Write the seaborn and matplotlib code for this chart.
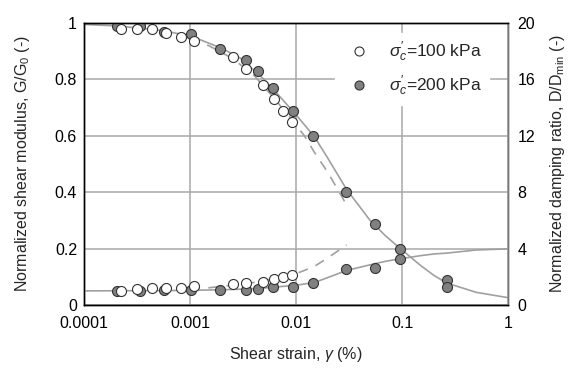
import numpy as np
import pandas as pd
import seaborn as sns
import matplotlib.pyplot as plt
from matplotlib.lines import Line2D

# measured points, sigma'c = 100 kPa (open circles)
strain_100 = [2.23e-4, 3.14e-4, 4.35e-4, 6.0e-4, 8.2e-4, 1.1e-3, 2.56e-3, 3.37e-3,
              4.86e-3, 6.24e-3, 7.48e-3, 9.1e-3]
G_100 = [0.979, 0.978, 0.979, 0.966, 0.949, 0.937, 0.878, 0.838, 0.779, 0.729, 0.689, 0.648]
D_100 = [0.97, 1.11, 1.23, 1.23, 1.23, 1.32, 1.47, 1.54, 1.65, 1.82, 1.99, 2.13]

# measured points, sigma'c = 200 kPa (filled circles)
strain_200 = [2.03e-4, 3.37e-4, 5.73e-4, 1.02e-3, 1.92e-3, 3.35e-3, 4.4e-3, 6.07e-3,
              9.4e-3, 1.46e-2, 2.97e-2, 5.6e-2, 0.0964, 0.264]
G_200 = [0.989, 0.990, 0.969, 0.960, 0.909, 0.869, 0.830, 0.768, 0.689, 0.600,
         0.400, 0.287, 0.199, 0.089]
D_200 = [0.97, 1.01, 1.04, 1.06, 1.04, 1.09, 1.13, 1.25, 1.30, 1.54, 2.53, 2.65, 3.24, 1.26]

# fitted curves
fit_strain = [1e-4, 2e-4, 5e-4, 1e-3, 2e-3, 3e-3, 5e-3, 7e-3, 1e-2, 1.5e-2, 2e-2, 3e-2,
              5e-2, 7e-2, 0.1, 0.15, 0.2, 0.264, 0.5, 1.0]
fit_G_200 = [0.995, 0.99, 0.975, 0.955, 0.91, 0.875, 0.80, 0.74, 0.675, 0.595, 0.52, 0.41,
             0.30, 0.245, 0.195, 0.14, 0.105, 0.078, 0.045, 0.026]
fit_D_200 = [1.0, 1.01, 1.02, 1.04, 1.08, 1.12, 1.2, 1.3, 1.4, 1.6, 1.95, 2.45,
             2.85, 3.1, 3.3, 3.5, 3.62, 3.68, 3.9, 3.98]

dash_strain = [1e-3, 1.5e-3, 2.5e-3, 4e-3, 6e-3, 9e-3, 1.2e-2, 1.5e-2, 2e-2, 3e-2]
dash_G_100 = [0.945, 0.92, 0.875, 0.815, 0.74, 0.66, 0.6, 0.54, 0.47, 0.355]
dash_D_100 = [1.15, 1.22, 1.4, 1.6, 1.85, 2.1, 2.45, 2.75, 3.35, 4.26]

sns.set_style("white")
plt.rcParams['font.family'] = ['Liberation Sans', 'DejaVu Sans']
plt.rcParams['mathtext.fontset'] = 'custom'
plt.rcParams['mathtext.rm'] = 'Liberation Sans'
plt.rcParams['mathtext.it'] = 'Liberation Sans:italic'

fig = plt.figure(figsize=(5.71, 3.69), dpi=100)
ax = fig.add_axes([84 / 571, 1 - 305 / 369, 424 / 571, 282 / 369])
ax2 = ax.twinx()

curve_col = "#a0a0a0"
fill_col = "#808080"
dash = (0, (6, 5))

sns.lineplot(x=fit_strain, y=fit_G_200, ax=ax, color=curve_col, lw=1.2)
sns.lineplot(x=dash_strain, y=dash_G_100, ax=ax, color=curve_col, lw=1.2, linestyle=dash)
sns.lineplot(x=fit_strain, y=fit_D_200, ax=ax2, color=curve_col, lw=1.2)
sns.lineplot(x=dash_strain, y=dash_D_100, ax=ax2, color=curve_col, lw=1.2, linestyle=dash)

pt = dict(s=52, linewidth=0.8, edgecolor="#333333", zorder=3)
sns.scatterplot(x=strain_200, y=G_200, ax=ax, color=fill_col, **pt)
sns.scatterplot(x=strain_100, y=G_100, ax=ax, color="white", **pt)
sns.scatterplot(x=strain_200, y=D_200, ax=ax2, color=fill_col, **pt)
sns.scatterplot(x=strain_100, y=D_100, ax=ax2, color="white", **pt)

ax.set_xscale("log")
ax.set_xlim(1e-4, 1)
ax.set_ylim(0, 1)
ax2.set_ylim(0, 20)
ax.set_xticks([1e-4, 1e-3, 1e-2, 1e-1, 1])
ax.set_xticklabels(["0.0001", "0.001", "0.01", "0.1", "1"])
ax.set_yticks([0, 0.2, 0.4, 0.6, 0.8, 1])
ax.set_yticklabels(["0", "0.2", "0.4", "0.6", "0.8", "1"])
ax2.set_yticks([0, 4, 8, 12, 16, 20])
ax.minorticks_off()
ax.grid(True, color="#a8a8a8", lw=1.1)
ax.tick_params(axis="x", length=0, labelsize=11.5, pad=8, colors="black")
ax.tick_params(axis="y", length=0, labelsize=11.5, pad=5, colors="black")
ax2.tick_params(length=0, labelsize=11.5, pad=7, colors="black")

ax.set_xlabel(r"Shear strain, $\gamma$ (%)", fontsize=11.5, labelpad=10)
ax.set_ylabel(r"Normalized shear modulus, G/G$_0$ (-)", fontsize=11.5, labelpad=16)
ax2.set_ylabel(r"Normalized damping ratio, D/D$_{\rm min}$ (-)", fontsize=11.5, labelpad=9)

for a in (ax, ax2):
    for s in a.spines.values():
        s.set_color("black")
        s.set_linewidth(1)
ax.spines["right"].set_color("#777777")
ax2.spines["right"].set_color("#777777")

handles = [
    Line2D([], [], marker="o", ls="", markersize=6.5, markerfacecolor="white",
           markeredgecolor="#333333", markeredgewidth=0.8),
    Line2D([], [], marker="o", ls="", markersize=6.5, markerfacecolor=fill_col,
           markeredgecolor="#333333", markeredgewidth=0.8),
]
leg = ax2.legend(handles, [r"$\sigma^{\prime}_{c}$=100 kPa", r"$\sigma^{\prime}_{c}$=200 kPa"],
                 loc="upper right", bbox_to_anchor=(0.975, 0.995), frameon=True,
                 fontsize=12.5, handletextpad=0.7, labelspacing=0.55, borderpad=0.4)
leg.get_frame().set_edgecolor("white")
leg.get_frame().set_facecolor("white")
leg.get_frame().set_alpha(1)

fig.savefig("out.png", dpi=100)
